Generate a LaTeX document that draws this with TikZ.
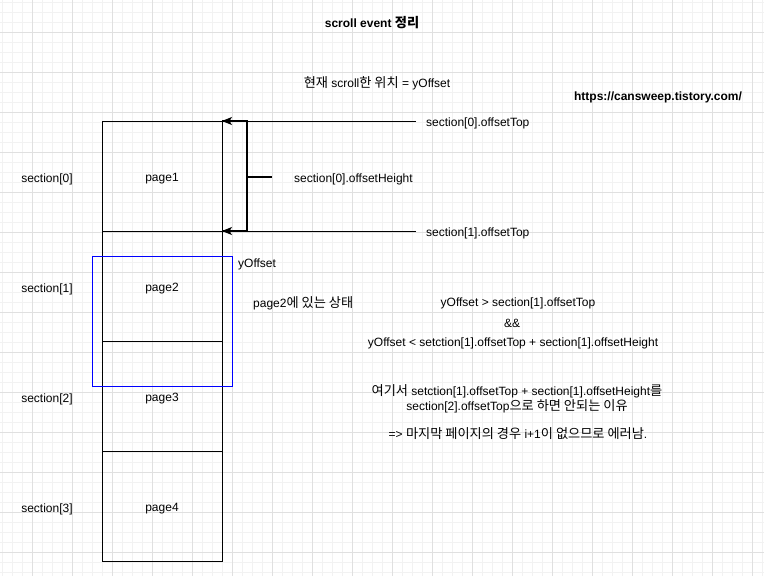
\documentclass[tikz,border=0pt]{standalone}
\usepackage{fontspec}
\setmainfont{Liberation Sans}
\newfontfamily\krfont[Scale=1.1]{Noto Sans CJK KR}
\newcommand{\kr}[1]{{\krfont #1}}
\usetikzlibrary{positioning, arrows.meta, calc}

\begin{document}
\begin{tikzpicture}[
    x=1pt, y=-1pt,
    font=\fontsize{12}{14.5}\selectfont,
    minorgrid/.style={draw=black!5, line width=0.6pt},
    majorgrid/.style={draw=black!12, line width=0.8pt},
    pagebox/.style={rectangle, draw, line width=1pt, outer sep=0pt,
                    minimum width=120pt, minimum height=110pt,
                    text height=13.6pt, text depth=2.6pt},
    viewbox/.style={rectangle, draw=blue, line width=1pt, outer sep=0pt,
                    minimum width=140pt, minimum height=130pt},
    lbl/.style={inner sep=0pt, align=center, yshift=-2pt},
    arr/.style={-{Stealth[length=10pt, width=8pt, inset=2.5pt]}, line width=1pt},
    brk/.style={line width=2pt},
]
\useasboundingbox (0,0) rectangle (764,576);
% background grid
\fill[white] (0,0) rectangle (764,576);
\foreach \gx in {2,12,...,762} \draw[minorgrid] (\gx,0) -- (\gx,576);
\foreach \gy in {2,12,...,572} \draw[minorgrid] (0,\gy) -- (764,\gy);
\foreach \gx in {32,72,...,752} \draw[majorgrid] (\gx,0) -- (\gx,576);
\foreach \gy in {32,72,...,552} \draw[majorgrid] (0,\gy) -- (764,\gy);

% titles
\node[lbl, font=\fontsize{12}{14.5}\selectfont\bfseries] (title) at (372,21) {scroll event \kr{정리}};
\node[lbl] (cur) at (377,81) {\kr{현재} scroll\kr{한 위치} = yOffset};
\node[lbl, font=\fontsize{12}{14.5}\selectfont\bfseries] (url) at (658,95) {https://cansweep.tistory.com/};

% pages
\node[pagebox] (page1) at (162,176) {page1};
\node[pagebox, below=0pt of page1] (page2) {page2};
\node[pagebox, below=0pt of page2] (page3) {page3};
\node[pagebox, below=0pt of page3] (page4) {page4};
\node[lbl] (sec0) at (47,177) {section[0]};
\node[lbl] (sec1) at (47,287) {section[1]};
\node[lbl] (sec2) at (47,397) {section[2]};
\node[lbl] (sec3) at (47,507) {section[3]};

% current viewport
\node[viewbox] (view) at (162,321) {};
\node[lbl, anchor=west] (yoff) at (238,262) {yOffset};

% offsetTop arrows
\node[lbl, anchor=west] (top0) at (426,121) {section[0].offsetTop};
\node[lbl, anchor=west] (top1) at (426,231) {section[1].offsetTop};
\draw[arr, shorten <=10pt] (top0.west |- page1.north) -- (page1.north east);
\draw[arr, shorten <=10pt] (top1.west |- page1.south) -- (page1.south east);

% offsetHeight bracket
\coordinate (bt) at (247,121);
\coordinate (bb) at (247,231);
\coordinate (bm) at (247,177);
\draw[brk] (page1.north east) -- (bt) -- (bb) -- (page1.south east);
\draw[brk] (bm) -- ++(25,0);
\node[lbl, anchor=west] (hgt) at (294,177) {section[0].offsetHeight};

% conditions
\node[lbl, anchor=west] (state) at (253,301) {page2\kr{에 있는 상태}};
\node[lbl] (cond1) at (518,301) {yOffset > section[1].offsetTop};
\node[lbl] (cond2) at (512,321) {\&\&};
\node[lbl] (cond3) at (513,341) {yOffset < setction[1].offsetTop + section[1].offsetHeight};
\node[lbl] (why) at (517,397) {\kr{여기서} setction[1].offsetTop + section[1].offsetHeight\kr{를}\\
    section[2].offsetTop\kr{으로 하면 안되는 이유}};
\node[lbl] (err) at (518,432) {=> \kr{마지막 페이지의 경우} i+1\kr{이 없으므로 에러남}.};
\end{tikzpicture}
\end{document}
